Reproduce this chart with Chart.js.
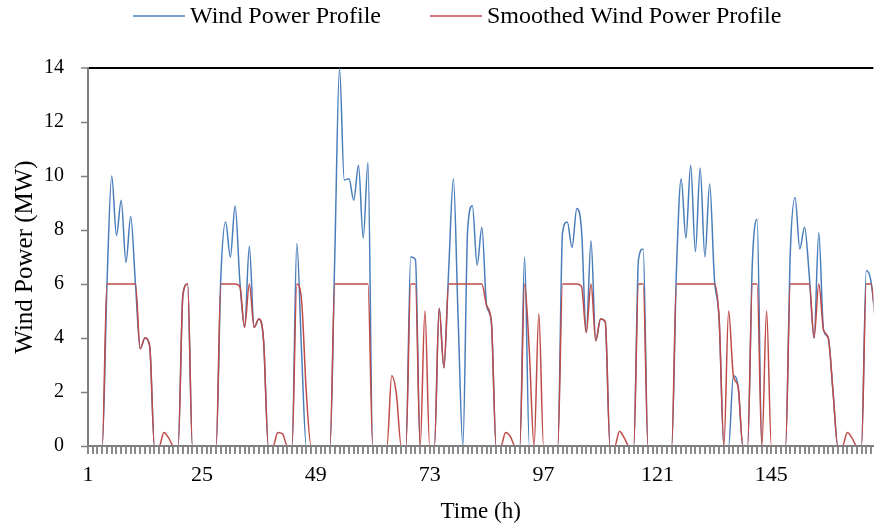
<!DOCTYPE html>
<html>
<head>
<meta charset="utf-8">
<title>Wind Power Profile</title>
<script src="https://cdn.jsdelivr.net/npm/chart.js@4.4.1/dist/chart.umd.min.js"></script>
<style>
  html, body { margin: 0; padding: 0; background: #fff; overflow: hidden; }
  #wrap { width: 880px; height: 527px; position: relative; }
</style>
</head>
<body>
<div id="wrap"><canvas id="windChart"></canvas></div>
<script>
// Puissance éolienne horaire (MW), heures 1 à 167
const wind = [
  0, 0, 0, 0, 6.0, 10.0, 7.8, 9.1, 6.8, 8.5,
  6.0, 3.6, 4.0, 3.7, 0, 0, 0, 0, 0, 0,
  5.6, 6.0, 0, 0, 0, 0, 0, 0, 6.3, 8.3,
  7.0, 8.9, 6.1, 4.4, 7.4, 4.4, 4.7, 3.9, 0, 0,
  0, 0, 0, 0, 7.5, 3.5, 0, 0, 0, 0,
  0, 0, 7.0, 14.0, 9.85, 9.9, 9.1, 10.4, 7.7, 10.5,
  0, 0, 0, 0, 0, 0, 0, 0, 7.0, 6.9,
  0, 0, 0, 0, 5.1, 2.9, 6.5, 9.9, 4.7, 0,
  8.0, 8.9, 6.7, 8.1, 5.2, 4.6, 0, 0, 0, 0,
  0, 0, 7.0, 0, 0, 0, 0, 0, 0, 0,
  7.9, 8.3, 7.35, 8.8, 8.0, 4.2, 7.6, 3.9, 4.7, 4.6,
  0, 0, 0, 0, 0, 0, 6.9, 7.3, 0, 0,
  0, 0, 0, 0, 6.5, 9.9, 7.7, 10.4, 7.2, 10.3,
  7.0, 9.7, 6.2, 4.7, 0, 0, 2.6, 2.2, 0, 0,
  6.8, 8.4, 0, 0, 0, 0, 0, 0, 7.2, 9.2,
  7.3, 8.1, 6.3, 4.0, 7.9, 4.3, 4.0, 2.0, 0, 0,
  0, 0, 0, 0, 6.5, 6.1, 4.5
];

// Profil lissé (MW)
const smoothed = [
  0, 0, 0, 0, 6, 6, 6, 6, 6, 6,
  6, 3.6, 4.0, 3.7, 0, 0, 0.5, 0.3, 0, 0,
  5.6, 6.0, 0, 0, 0, 0, 0, 0, 6, 6,
  6, 6, 5.9, 4.4, 6, 4.4, 4.7, 3.9, 0, 0,
  0.5, 0.45, 0, 0, 6, 5.4, 2.0, 0, 0, 0,
  0, 0, 6, 6, 6, 6, 6, 6, 6, 6,
  0, 0, 0, 0, 2.6, 1.9, 0, 0, 6, 6,
  0, 5.0, 0, 0, 5.1, 2.9, 6, 6, 6, 6,
  6, 6, 6, 6, 5.2, 4.6, 0, 0, 0.5, 0.35,
  0, 0, 6, 3.5, 0, 4.9, 0, 0, 0, 0,
  6, 6, 6, 6, 5.9, 4.2, 6, 3.9, 4.7, 4.6,
  0, 0, 0.55, 0.3, 0, 0, 6, 6, 0, 0,
  0, 0, 0, 0, 6, 6, 6, 6, 6, 6,
  6, 6, 6, 4.7, 0, 5.0, 2.6, 2.2, 0, 0,
  6, 6, 0, 5.0, 0, 0, 0, 0, 6, 6,
  6, 6, 6, 4.0, 6, 4.3, 4.0, 2.0, 0, 0,
  0.5, 0.3, 0, 0, 6, 6, 4.5
];

// Heures (catégories) et étiquettes des axes
const hours = wind.map((_, i) => i + 1);
const xTickLabels = [1, 25, 49, 73, 97, 121, 145];
const xMin = 1;
const xMax = 166.5;
const yTicks = [0, 2, 4, 6, 8, 10, 12, 14];
const xTicks = hours.filter((h) => h <= xMax); // un petit trait par heure

const seriesLabels = ["Wind Power Profile", "Smoothed Wind Power Profile"];
const blue = "#4a7ebb";
const red = "#be4b48";
const axisGrey = "#7f7f7f";
const serif = '"Liberation Serif", "Times New Roman", serif';

// Légende dessinée à la main (trait + texte), comme sur la figure
const legendStart = [133, 430];
const lineLegend = {
  id: "lineLegend",
  afterDraw(chart) {
    const ctx = chart.ctx;
    ctx.save();
    ctx.font = "24px " + serif;
    ctx.textBaseline = "middle";
    chart.data.datasets.forEach((ds, i) => {
      const x = legendStart[i];
      ctx.strokeStyle = ds.borderColor;
      ctx.lineWidth = 1.5;
      ctx.beginPath();
      ctx.moveTo(x, 16);
      ctx.lineTo(x + 52, 16);
      ctx.stroke();
      ctx.fillStyle = "#000";
      ctx.fillText(ds.label, x + 57, 17);
    });
    ctx.restore();
  },
};

// Petits traits horaires sous l'axe des x (placés par l'échelle x)
const hourTicks = {
  id: "hourTicks",
  afterDraw(chart) {
    const ctx = chart.ctx;
    const xs = chart.scales.x;
    const y0 = chart.chartArea.bottom;
    ctx.save();
    ctx.strokeStyle = "#8a8a8a";
    ctx.lineWidth = 2;
    ctx.beginPath();
    xTicks.forEach((h) => {
      const x = Math.round(xs.getPixelForValue(h));
      ctx.moveTo(x, y0 + 1);
      ctx.lineTo(x, y0 + 8);
    });
    ctx.stroke();
    ctx.restore();
  },
};

Chart.defaults.font.family = serif;
Chart.defaults.color = "#000";

document.addEventListener("DOMContentLoaded", () => {
  const ctx = document.getElementById("windChart").getContext("2d");

  new Chart(ctx, {
    type: "line",
    data: {
      datasets: [
        {
          label: seriesLabels[0],
          data: hours.map((h, i) => ({ x: h, y: wind[i] })),
          borderColor: blue,
          backgroundColor: blue,
          borderWidth: 1.5,
          pointRadius: 0,
          cubicInterpolationMode: "monotone",
          order: 2,
        },
        {
          label: seriesLabels[1],
          data: hours.map((h, i) => ({ x: h, y: smoothed[i] })),
          borderColor: red,
          backgroundColor: red,
          borderWidth: 1.5,
          pointRadius: 0,
          cubicInterpolationMode: "monotone",
          order: 1,
        },
      ],
    },
    options: {
      responsive: true,
      maintainAspectRatio: false,
      animation: false,
      devicePixelRatio: 1,
      layout: { padding: { top: 68, right: 0, bottom: 0, left: 0 } },
      plugins: {
        legend: { display: false },
        tooltip: { enabled: false },
      },
      scales: {
        x: {
          type: "linear",
          min: xMin,
          max: xMax,
          afterBuildTicks: (scale) => {
            scale.ticks = xTicks.map((h) => ({ value: h }));
          },
          afterFit: (scale) => {
            scale.height = 81;
          },
          ticks: {
            autoSkip: false,
            maxTicksLimit: xTicks.length,
            maxRotation: 0,
            minRotation: 0,
            padding: 9,
            font: { size: 22 },
            callback: (v) => (xTickLabels.includes(v) ? String(v) : ""),
          },
          grid: {
            drawOnChartArea: false,
            drawTicks: true,
            tickLength: 7,
            color: "rgba(0,0,0,0)",
          },
          border: { color: axisGrey, width: 2, z: 1 },
          title: {
            display: true,
            text: "Time (h)",
            font: { size: 23 },
            padding: { top: 0, bottom: 1 },
          },
        },
        y: {
          min: yTicks[0],
          max: yTicks[yTicks.length - 1],
          afterBuildTicks: (scale) => {
            scale.ticks = yTicks.map((v) => ({ value: v }));
          },
          afterFit: (scale) => {
            scale.width = 88;
          },
          ticks: {
            padding: 17,
            font: { size: 20 },
          },
          grid: {
            drawTicks: true,
            tickLength: 7,
            tickColor: axisGrey,
            tickWidth: 1.5,
            color: (c) => (c.tick && c.tick.value === 14 ? "#000" : "rgba(0,0,0,0)"),
            lineWidth: (c) => (c.tick && c.tick.value === 14 ? 2 : 1),
          },
          border: { color: axisGrey, width: 2, z: 1 },
          title: {
            display: true,
            text: "Wind Power (MW)",
            font: { size: 25 },
            padding: { top: 10, bottom: 0 },
          },
        },
      },
    },
    plugins: [lineLegend, hourTicks],
  });
});
</script>
</body>
</html>
